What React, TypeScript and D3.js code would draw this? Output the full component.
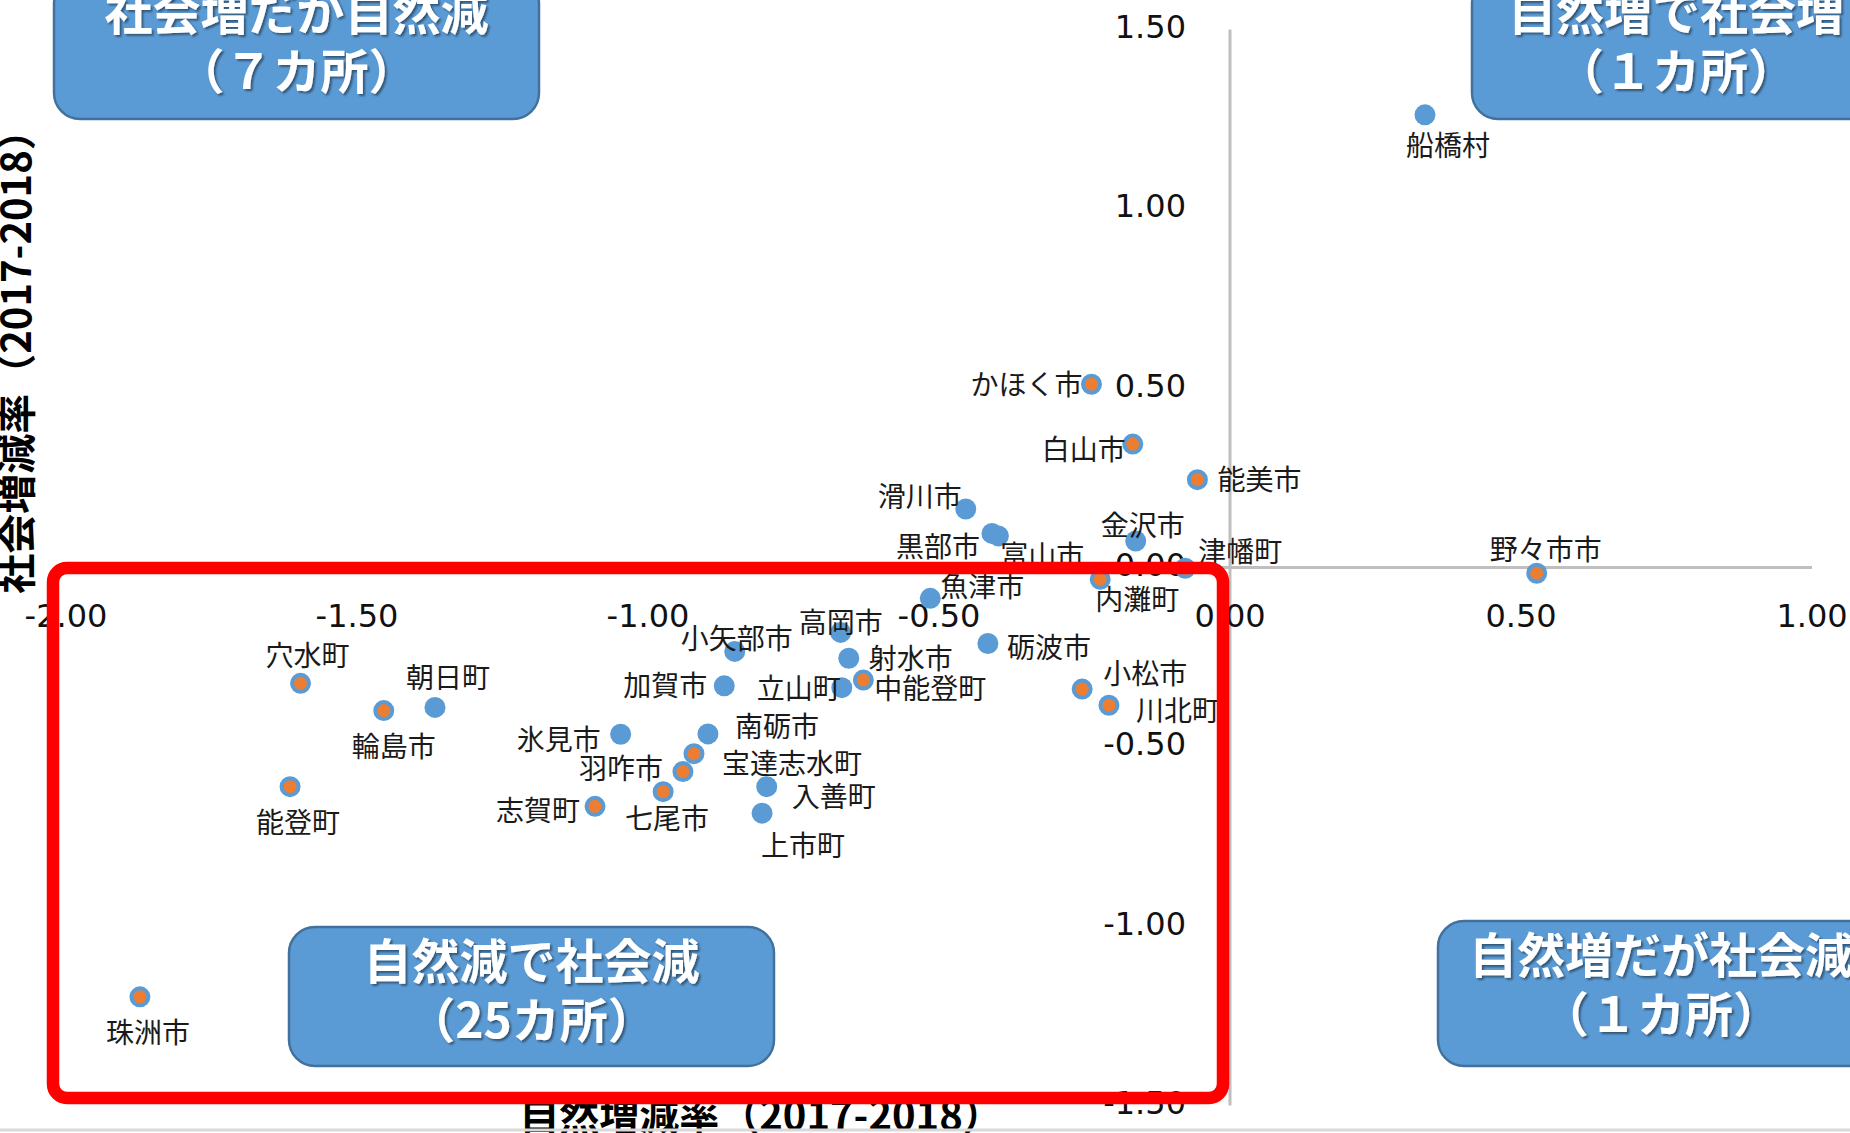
import * as d3 from "d3";

// 自然増減率 (x) / 社会増減率 (y), 2017-2018
const NAMES = [
  "船橋村", "野々市市", "能美市", "かほく市", "白山市", "滑川市", "黒部市", "富山市",
  "金沢市", "津幡町", "内灘町", "魚津市", "高岡市", "小矢部市", "射水市", "加賀市",
  "立山町", "中能登町", "南砺市", "宝達志水町", "羽咋市", "七尾市", "入善町", "上市町",
  "氷見市", "志賀町", "穴水町", "輪島市", "朝日町", "能登町", "珠洲市", "砺波市",
  "小松市", "川北町",
];
const NATURAL = [
  0.335, 0.527, -0.056, -0.238, -0.167, -0.454, -0.409, -0.398,
  -0.162, -0.077, -0.223, -0.515, -0.669, -0.851, -0.655, -0.869,
  -0.667, -0.630, -0.897, -0.921, -0.940, -0.974, -0.796, -0.804,
  -1.047, -1.091, -1.597, -1.454, -1.366, -1.615, -1.873, -0.416,
  -0.254, -0.208,
];
const SOCIAL = [
  1.262, -0.016, 0.245, 0.511, 0.344, 0.163, 0.095, 0.088,
  0.074, -0.002, -0.033, -0.086, -0.181, -0.234, -0.253, -0.330,
  -0.335, -0.314, -0.464, -0.519, -0.569, -0.625, -0.611, -0.685,
  -0.465, -0.666, -0.323, -0.399, -0.390, -0.611, -1.197, -0.212,
  -0.339, -0.384,
];
// second (orange) series
const ORANGE = [
  "野々市市", "能美市", "かほく市", "白山市", "津幡町", "内灘町", "中能登町", "宝達志水町",
  "羽咋市", "七尾市", "志賀町", "穴水町", "輪島市", "能登町", "珠洲市", "小松市", "川北町",
];

const X_TICKS = [-2, -1.5, -1, -0.5, 0, 0.5, 1];
const Y_TICKS = [-1.5, -1, -0.5, 0, 0.5, 1, 1.5];

const QUADRANT_TITLES = ["社会増だが自然減", "自然増で社会増", "自然減で社会減", "自然増だが社会減"];
const QUADRANT_COUNTS = ["（７カ所）", "（１カ所）", "（25カ所）", "（１カ所）"];

const X_TITLE = "自然増減率（2017-2018）";
const Y_TITLE = "社会増減率（2017-2018）";

// label placement: offset of label centre from the marker
const LABEL_OFFSET: Record<string, [number, number]> = {
  船橋村: [23, 31], 野々市市: [9, -24], 能美市: [62, 0], かほく市: [-65, 0],
  白山市: [-49, 5], 滑川市: [-46, -13], 黒部市: [-54, 13], 富山市: [44, 20],
  金沢市: [7, -15], 津幡町: [55, -17], 内灘町: [37, 20], 魚津市: [52, -12],
  高岡市: [0, -10], 小矢部市: [2, -13], 射水市: [62, 0], 加賀市: [-59, 0],
  立山町: [-43, 1], 中能登町: [67, 8], 南砺市: [69, -7], 宝達志水町: [98, 10],
  羽咋市: [-62, -3], 七尾市: [4, 27], 入善町: [67, 10], 上市町: [41, 32],
  氷見市: [-62, 5], 志賀町: [-57, 4], 穴水町: [7, -28], 輪島市: [10, 36],
  朝日町: [13, -30], 能登町: [8, 36], 珠洲市: [8, 36], 砺波市: [61, 4],
  小松市: [63, -16], 川北町: [69, 5],
};

// quadrant boxes: x, y, w, h
const BOXES: [number, number, number, number][] = [
  [54, -22, 485, 141],
  [1472, -22, 408, 141],
  [289, 927, 485, 139],
  [1438, 921, 446, 145],
];

const W = 1850;
const H = 1133;
const BLUE = "#5B9BD5";
const ORANGE_C = "#ED7D31";
const CJK = "'Noto Sans CJK JP', sans-serif";

const fmt = d3
  .formatLocale({ decimal: ".", thousands: ",", grouping: [3], currency: ["", ""], minus: "-" })
  .format(".2f");

export default function App() {
  const x = d3.scaleLinear().domain([-2, 1]).range([66, 1812]);
  const y = d3.scaleLinear().domain([-1.5, 1.5]).range([1105.5, 29.5]);

  const points = NAMES.map((name, i) => ({
    name,
    cx: x(NATURAL[i]),
    cy: y(SOCIAL[i]),
    orange: ORANGE.includes(name),
  }));

  return (
    <svg
      width={W}
      height={H}
      style={{ position: "absolute", left: 0, top: 0, background: "#fff" }}
    >
      <defs>
        <filter id="shadow" x="-10%" y="-10%" width="120%" height="130%">
          <feDropShadow dx="2" dy="2" stdDeviation="1.2" floodColor="#000" floodOpacity="0.45" />
        </filter>
      </defs>
      <rect width={W} height={H} fill="#fff" />

      {/* axes */}
      <line x1={x(-2)} x2={x(1)} y1={y(0)} y2={y(0)} stroke="#BFBFBF" strokeWidth={3} />
      <line x1={x(0)} x2={x(0)} y1={y(1.5)} y2={y(-1.5)} stroke="#BFBFBF" strokeWidth={3} />

      <g fontFamily="'DejaVu Sans', sans-serif" fontSize={32} fill="#111">
        {X_TICKS.map((t) => (
          <text key={"x" + t} x={x(t)} y={y(0) + 59.5} textAnchor="middle">
            {fmt(t)}
          </text>
        ))}
        {Y_TICKS.map((t) => (
          <text key={"y" + t} x={x(0) - 44} y={y(t) + 8.5} textAnchor="end">
            {fmt(t)}
          </text>
        ))}
      </g>

      {/* markers */}
      {points.map((p) =>
        p.orange ? (
          <circle key={p.name} cx={p.cx} cy={p.cy} r={8.5} fill={ORANGE_C} stroke={BLUE} strokeWidth={4} />
        ) : (
          <circle key={p.name} cx={p.cx} cy={p.cy} r={10.5} fill={BLUE} />
        )
      )}

      {/* data labels */}
      <g fontFamily={CJK} fontSize={28} fill="#1a1a1a">
        {points.map((p) => {
          const [dx, dy] = LABEL_OFFSET[p.name];
          return (
            <text key={p.name} x={p.cx + dx} y={p.cy + dy + 10.5} textAnchor="middle">
              {p.name}
            </text>
          );
        })}
      </g>

      {/* axis titles */}
      <text
        transform={`translate(31,352) rotate(-90)`}
        textAnchor="middle"
        fontFamily={CJK}
        fontWeight={700}
        fontSize={40}
        fill="#000"
      >
        {Y_TITLE}
      </text>
      <text x={761} y={1130} textAnchor="middle" fontFamily={CJK} fontWeight={700} fontSize={40} fill="#000">
        {X_TITLE}
      </text>
      <line x1={0} x2={W} y1={1130} y2={1130} stroke="#D9D9D9" strokeWidth={3} />

      {/* highlighted area */}
      <rect x={53} y={568} width={1170} height={530} rx={14} fill="none" stroke="#FF0000" strokeWidth={12.5} />

      {/* quadrant boxes */}
      {BOXES.map(([bx, by, bw, bh], i) => (
        <g key={i}>
          <rect x={bx} y={by} width={bw} height={bh} rx={26} fill={BLUE} stroke="#41719C" strokeWidth={2.5} />
          <g fontFamily={CJK} fontWeight={700} fontSize={48} fill="#fff" textAnchor="middle" filter="url(#shadow)">
            <text x={bx + bw / 2} y={by + 34 + 18}>{QUADRANT_TITLES[i]}</text>
            <text x={bx + bw / 2} y={by + 93 + 18}>{QUADRANT_COUNTS[i]}</text>
          </g>
        </g>
      ))}
    </svg>
  );
}
